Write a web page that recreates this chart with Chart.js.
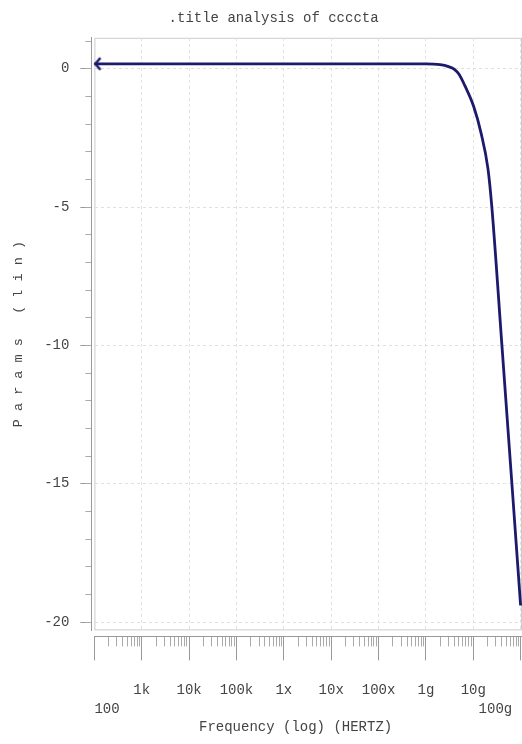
<!DOCTYPE html>
<html>
<head>
<meta charset="utf-8">
<script src="https://cdn.jsdelivr.net/npm/chart.js@4.4.0/dist/chart.umd.min.js"></script>
<style>
  body { margin: 0; background: #fff; }
  canvas { display: block; }
</style>
</head>
<body>
<canvas id="myChart" width="522" height="744"></canvas>
<script>
// values
const freq = [1e2, 1e3, 1e4, 1e5, 1e6, 1e7, 1e8, 1e9, 2e9, 3e9, 4e9, 5e9, 6.6e9,
              1.03e10, 1.45e10, 2.04e10, 2.47e10, 4.03e10, 6.55e10, 1e11];
const params = [0.18, 0.18, 0.18, 0.18, 0.18, 0.18, 0.18, 0.18, 0.15, 0.08, -0.02, -0.2, -0.6,
                -1.38, -2.3, -3.6, -5, -10, -15, -19.4];

const decadeTicks = [1e2, 1e3, 1e4, 1e5, 1e6, 1e7, 1e8, 1e9, 1e10, 1e11];
const decadeLabels = ['100', '1k', '10k', '100k', '1x', '10x', '100x', '1g', '10g', '100g'];
const yMajorTicks = [-20, -15, -10, -5, 0];
const yMinorTicks = [-20, -19, -18, -17, -16, -15, -14, -13, -12, -11, -10,
                     -9, -8, -7, -6, -5, -4, -3, -2, -1, 0, 1];

const xMin = 100, xMax = 1.07e11;
const yMin = -20.3, yMax = 1.12;

// minor ruler ticks 2..9 in each decade
const xMinorTicks = [];
for (let i = 0; i < decadeTicks.length - 1; i++) {
  for (let k = 2; k <= 9; k++) xMinorTicks.push(decadeTicks[i] * k);
}

const lineColor = '#1c1a6c';
const textColor = '#444';
const mono = "'Courier New', 'Liberation Mono', monospace";

// open "<" arrow head at the start of the trace
const arrow = document.createElement('canvas');
arrow.width = 20;
arrow.height = 16;
const a = arrow.getContext('2d');
a.strokeStyle = lineColor;
a.lineWidth = 2.5;
a.beginPath();
a.moveTo(16, 2);
a.lineTo(11, 8);
a.lineTo(16, 14);
a.stroke();

const frame = {
  id: 'frame',
  beforeDraw(chart) {
    const { ctx, chartArea: c } = chart;
    ctx.save();
    ctx.strokeStyle = '#cccccc';
    ctx.lineWidth = 1;
    ctx.strokeRect(c.left + 0.5, c.top + 0.5, c.width - 1, c.height - 1);
    ctx.restore();
  }
};

const ctx = document.getElementById('myChart').getContext('2d');
new Chart(ctx, {
  type: 'line',
  data: {
    datasets: [{
      data: freq.map((f, i) => ({ x: f, y: params[i] })),
      borderColor: lineColor,
      borderWidth: 2.8,
      cubicInterpolationMode: 'monotone',
      pointStyle: c => c.dataIndex === 0 ? arrow : false,
      pointRadius: c => c.dataIndex === 0 ? 8 : 0,
      pointHoverRadius: 0,
      clip: false
    }]
  },
  options: {
    responsive: false,
    animation: false,
    layout: { padding: 0, autoPadding: false },
    plugins: {
      legend: { display: false },
      tooltip: { enabled: false },
      title: {
        display: true,
        text: '   .title analysis of ccccta',
        color: textColor,
        font: { family: mono, size: 14, weight: 'normal' },
        padding: { top: 10, bottom: 11 }
      }
    },
    scales: {
      x: {
        type: 'logarithmic',
        position: 'bottom',
        weight: 2,
        min: xMin,
        max: xMax,
        afterBuildTicks: s => { s.ticks = decadeTicks.map(v => ({ value: v })); },
        grid: { color: '#e0e0e0', tickColor: '#999', tickLength: 24 },
        border: { display: true, color: '#999', dash: [3, 3] },
        ticks: {
          autoSkip: false,
          maxRotation: 0,
          align: 'inner',
          padding: 0,
          color: textColor,
          font: { family: mono, size: 14, lineHeight: 1.4 },
          callback: (value, index) => {
            const label = decadeLabels[index];
            if (index === 0) return ['', '', label];
            if (index === decadeLabels.length - 1) return ['', '', label + ' '];
            return ['', label];
          }
        },
        title: {
          display: true,
          text: 'Frequency (log) (HERTZ)   ',
          color: textColor,
          font: { family: mono, size: 14 },
          padding: { top: 0, bottom: 8 }
        }
      },
      xm: {
        type: 'logarithmic',
        position: 'bottom',
        weight: 1,
        min: xMin,
        max: xMax,
        afterBuildTicks: s => { s.ticks = xMinorTicks.map(v => ({ value: v })); },
        afterFit: s => { s.height = 0; },
        grid: { drawOnChartArea: false, tickLength: 10, tickColor: '#aaa' },
        border: { display: false },
        ticks: { display: false }
      },
      xg: {
        type: 'linear',
        position: 'bottom',
        weight: 0,
        afterFit: s => { s.height = 6; },
        grid: { display: false },
        border: { display: false },
        ticks: { display: false }
      },
      y: {
        type: 'linear',
        position: 'left',
        weight: 2,
        min: yMin,
        max: yMax,
        afterBuildTicks: s => { s.ticks = yMajorTicks.map(v => ({ value: v })); },
        grid: { color: '#e0e0e0', tickColor: '#999', tickLength: 11 },
        border: { display: true, color: '#999', dash: [3, 3] },
        ticks: { padding: 11, color: textColor, font: { family: mono, size: 14 } },
        title: {
          display: true,
          text: 'P a r a m s   ( l i n )',
          color: textColor,
          font: { family: mono, size: 13.5 },
          padding: { top: 10, bottom: 7 }
        }
      },
      // minor ticks plus the 3px gap to the frame (dash leaves the gap empty)
      ym: {
        type: 'linear',
        position: 'left',
        weight: 1,
        min: yMin,
        max: yMax,
        afterBuildTicks: s => { s.ticks = yMinorTicks.map(v => ({ value: v })); },
        afterFit: s => { s.width = 3; },
        grid: { drawOnChartArea: false, tickLength: 9, tickColor: '#aaa', tickBorderDash: [6, 20] },
        border: { display: false },
        ticks: { display: false }
      }
    }
  },
  plugins: [frame]
});
</script>
</body>
</html>
